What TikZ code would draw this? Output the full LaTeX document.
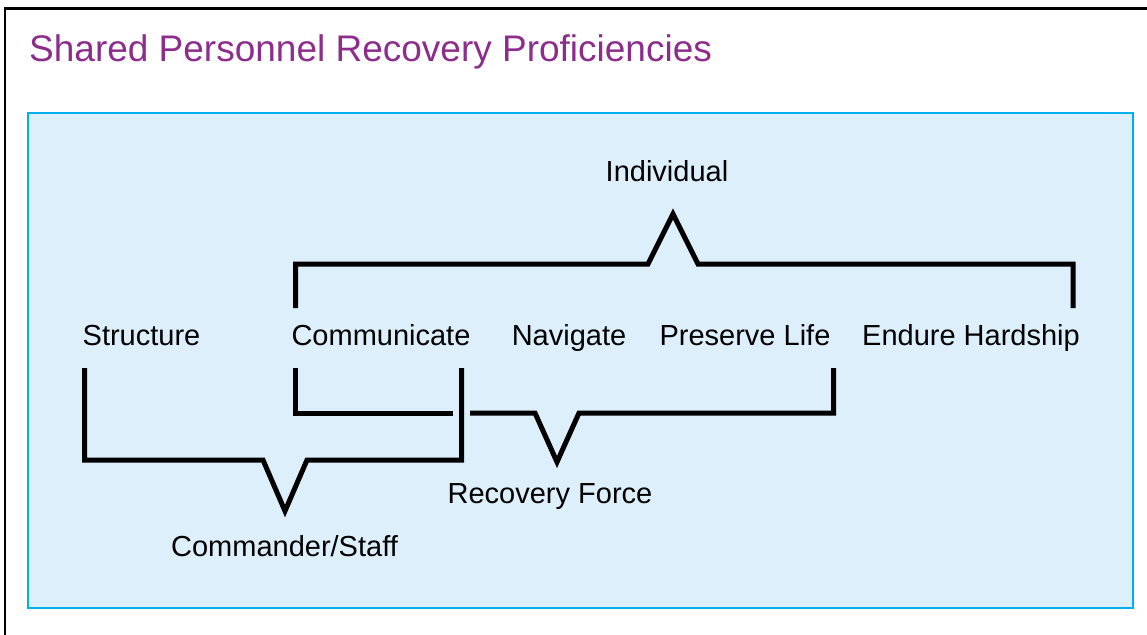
\documentclass[tikz,border=0pt]{standalone}
\usepackage{fontspec}
\setmainfont{Liberation Sans}
\usepackage{tikz}
\definecolor{boxfill}{RGB}{220,239,251}
\definecolor{boxline}{RGB}{0,176,236}
\definecolor{titlepurple}{RGB}{140,45,140}
\tikzset{lbl/.style={anchor=base, inner sep=0pt, font=\fontsize{29}{34}\selectfont},
  brace/.style={line width=5pt, miter limit=10}}

\begin{document}
\begin{tikzpicture}[x=1pt, y=-1pt]

\useasboundingbox (0,0) rectangle (1147,634);
\draw[line width=2.5pt] (5,640) -- (5,8.5) -- (1150,8.5);
\node[anchor=base west, inner sep=0pt, text=titlepurple, font=\fontsize{37}{44}\selectfont] (title) at (29,62) {Shared Personnel Recovery Proficiencies};
\draw[boxline, fill=boxfill, line width=1.5pt] (28,113) rectangle (1133,608);

\node[lbl] (indnode) at (667,181) {Individual};
\node[lbl] (strnode) at (141.5,345) {Structure};
\node[lbl] (comnode) at (381,345) {Communicate};
\node[lbl] (navnode) at (569,345) {Navigate};
\node[lbl] (prenode) at (745,345) {Preserve Life};
\node[lbl] (endnode) at (971,345) {Endure Hardship};
\node[lbl] (recnode) at (550,503) {Recovery Force};
\node[lbl] (cmdnode) at (284.5,556) {Commander/Staff};

% individual
\draw[brace] (295.5,308) -- (295.5,264) -- (648,264) -- (673,214) -- (698,264) -- (1073,264) -- (1073,308);
% recovery force
\draw[brace] (295.5,368) -- (295.5,413) -- (453,413);
\draw[brace] (470,413) -- (535,413) -- (557,462) -- (579,413) -- (833.5,413) -- (833.5,368);
% commander/staff
\draw[brace] (84.5,368) -- (84.5,460) -- (263,460) -- (285,511) -- (307,460) -- (461.5,460) -- (461.5,368);

\end{tikzpicture}
\end{document}
